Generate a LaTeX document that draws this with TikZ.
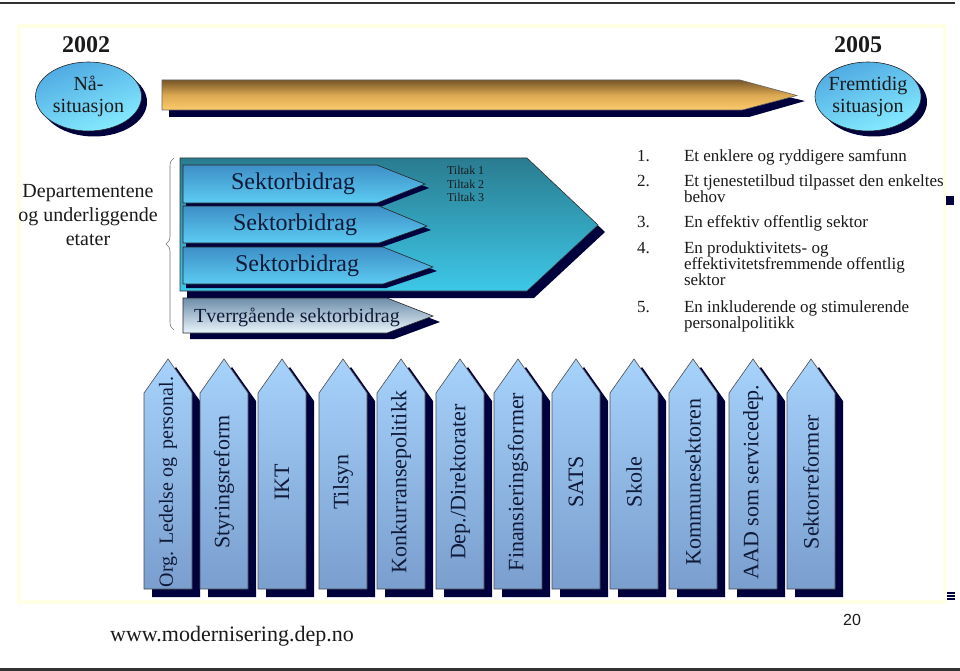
\documentclass[tikz,border=0pt]{standalone}
\usepackage{fontspec}
\setmainfont{Liberation Serif}
\newfontfamily\arialfont{Liberation Sans}
\usetikzlibrary{decorations.pathreplacing,shapes.geometric}
\definecolor{navy}{HTML}{00003C}
\definecolor{panelb}{HTML}{FFFFE6}
\definecolor{ellA}{HTML}{4FA9E2}
\definecolor{ellB}{HTML}{86ECFF}
\definecolor{goldA}{HTML}{765627}
\definecolor{goldB}{HTML}{DDA852}
\definecolor{goldC}{HTML}{FCCB6C}
\definecolor{tealA}{HTML}{2A7C90}
\definecolor{tealB}{HTML}{3DC8E8}
\definecolor{sekA}{HTML}{3E8FC6}
\definecolor{sekB}{HTML}{5CCCF3}
\definecolor{tvA}{HTML}{6D8DA9}
\definecolor{tvB}{HTML}{EAF5FB}
\definecolor{colA}{HTML}{A6D2FB}
\definecolor{colB}{HTML}{7A9ECE}
\definecolor{ink}{HTML}{1A1A1A}
\definecolor{deepink}{HTML}{101A38}
\begin{document}
\begin{tikzpicture}[x=1pt,y=-1pt,
  edge/.style={draw=black!85, line width=0.6pt},
  shadowfill/.style={fill=navy, draw=none},
  txt/.style={inner sep=0pt, outer sep=0pt, text=ink},
  yeartext/.style={txt, font=\fontsize{24}{26}\selectfont\bfseries},
  elltext/.style={txt, align=center, font=\fontsize{20}{22}\selectfont},
  ellshape/.style={ellipse, minimum width=106pt, minimum height=69pt, inner sep=0pt},
  sektext/.style={txt, text=deepink, font=\fontsize{24}{26}\selectfont},
  listtext/.style={txt, anchor=base west, font=\fontsize{17}{17}\selectfont},
  coltext/.style={txt, text=deepink, rotate=90, font=\fontsize{22}{24}\selectfont},
  tiltak/.style={txt, anchor=base west, font=\fontsize{12}{13}\selectfont},
  marker/.style={fill=navy, draw=none}
]
\useasboundingbox (0,0) rectangle (960,671);
% frame lines
\draw[black!80, line width=2pt] (0,3) -- (955,3);
\draw[black!80, line width=3pt] (0,669) -- (960,669);
% panel
\draw[panelb, line width=4pt, fill=white] (19,26) rectangle (945,602);

% years
\node[yeartext] (y2002) at (86,45) {2002};
\node[yeartext] (y2005) at (858,45) {2005};

% ellipses
\node[ellshape, fill=navy] (nash) at (94,102) {};
\node[ellshape, edge, shading=axis, top color=ellA, bottom color=ellB, shading angle=20] (na) at (88.5,96.5) {};
\node[elltext] (natext) at (na.center) {Nå-\\situasjon};
\node[ellshape, fill=navy] (frsh) at (874,102) {};
\node[ellshape, edge, shading=axis, top color=ellA, bottom color=ellB, shading angle=20] (fr) at (868,96.5) {};
\node[elltext] (frtext) at (fr.center) {Fremtidig\\situasjon};

% gold time arrow
\fill[shadowfill] (169,87) -- (747,87) -- (805,101) -- (749,117) -- (169,117) -- cycle;
\shadedraw[edge, draw=black!60, top color=goldA, bottom color=goldC, middle color=goldB] (162,80) -- (740,80) -- (797,95.5) -- (742,110) -- (162,110) -- cycle;

% left label and brace
\node[txt, align=center, font=\fontsize{20}{24}\selectfont] (dep) at (88,215) {Departementene\\og underliggende\\etater};
\draw[black!55, line width=0.6pt, decorate, decoration={brace, amplitude=8pt}] (174,330) -- (174,158);

% big teal pentagon
\fill[shadowfill] (187,165) -- (534,165) -- (605,232) -- (534,298) -- (187,298) -- cycle;
\shadedraw[edge, draw=black!80, top color=tealA, bottom color=tealB] (180,158) -- (527,158) -- (598,225) -- (527,291) -- (180,291) -- cycle;

% Sektorbidrag arrows
\fill[shadowfill] (186,169) -- (380,169) -- (429,188) -- (380,207) -- (186,207) -- cycle;
\shadedraw[edge, top color=sekA, bottom color=sekB] (183,165) -- (377,165) -- (425,184) -- (377,203) -- (183,203) -- cycle;
\node[sektext] (s1) at (293,184) {Sektorbidrag};
\fill[shadowfill] (186,210) -- (382,210) -- (431,230) -- (382,247) -- (186,247) -- cycle;
\shadedraw[edge, top color=sekA, bottom color=sekB] (183,206) -- (379,206) -- (427,226) -- (379,243) -- (183,243) -- cycle;
\node[sektext] (s2) at (295,225) {Sektorbidrag};
\fill[shadowfill] (186,251) -- (386,251) -- (437,271) -- (386,288) -- (186,288) -- cycle;
\shadedraw[edge, top color=sekA, bottom color=sekB] (183,247) -- (383,247) -- (433,267) -- (383,284) -- (183,284) -- cycle;
\node[sektext] (s3) at (297,266) {Sektorbidrag};

% Tverrgaende
\fill[shadowfill] (190,304) -- (394,304) -- (440,322) -- (394,339) -- (190,339) -- cycle;
\shadedraw[edge, top color=tvA, bottom color=tvB] (183,298) -- (387,298) -- (433,316) -- (387,333) -- (183,333) -- cycle;
\node[txt, text=deepink, font=\fontsize{20}{22}\selectfont] (tv) at (297,317) {Tverrgående sektorbidrag};

% Tiltak
\node[tiltak] (t1) at (447,175) {Tiltak 1};
\node[tiltak] (t2) at (447,188) {Tiltak 2};
\node[tiltak] (t3) at (447,201) {Tiltak 3};

% numbered list
\node[listtext] (n1) at (637,161) {1.};
\node[listtext] (l1) at (684,161) {Et enklere og ryddigere samfunn};
\node[listtext] (n2) at (637,186) {2.};
\node[listtext] (l2a) at (684,186) {Et tjenestetilbud tilpasset den enkeltes};
\node[listtext] (l2b) at (684,202) {behov};
\node[listtext] (n3) at (637,227) {3.};
\node[listtext] (l3) at (684,227) {En effektiv offentlig sektor};
\node[listtext] (n4) at (637,253) {4.};
\node[listtext] (l4a) at (684,253) {En produktivitets- og};
\node[listtext] (l4b) at (684,269) {effektivitetsfremmende offentlig};
\node[listtext] (l4c) at (684,285) {sektor};
\node[listtext] (n5) at (637,312) {5.};
\node[listtext] (l5a) at (684,312) {En inkluderende og stimulerende};
\node[listtext] (l5b) at (684,328) {personalpolitikk};

% markers
\fill[marker] (946,196) rectangle (954,205);
\foreach \yy in {593,596,599} \fill[marker] (947,\yy-0.8) rectangle (955,\yy+0.8);

% columns
\foreach \x/\lab [count=\i] in {144/{\fontsize{20}{22}\selectfont Org. Ledelse og\hspace{3pt} personal.}, 200/{Styringsreform}, 258/{IKT}, 319/{Tilsyn}, 377/{Konkurransepolitikk}, 436/{Dep./Direktorater}, 494/{Finansieringsformer}, 552/{SATS}, 610/{Skole}, 669/{Kommunesektoren}, 729/{AAD som servicedep.}, 787/{Sektorreformer}} {
  \fill[shadowfill] (\x+8,597) -- (\x+8,401) -- (\x+32,367) -- (\x+56,401) -- (\x+56,597) -- cycle;
  \shadedraw[edge, draw=black!70, top color=colA, bottom color=colB] (\x,589) -- (\x,393) -- (\x+24,359) -- (\x+48,393) -- (\x+48,589) -- cycle;
  \node[coltext] (c\i) at (\x+24,482) {\lab};
}

% footer
\node[txt, font=\fontsize{22}{24}\selectfont] (url) at (232,636) {www.modernisering.dep.no};
\node[txt, font=\arialfont\fontsize{16}{18}\selectfont] (pg) at (852,620) {20};
\end{tikzpicture}
\end{document}
